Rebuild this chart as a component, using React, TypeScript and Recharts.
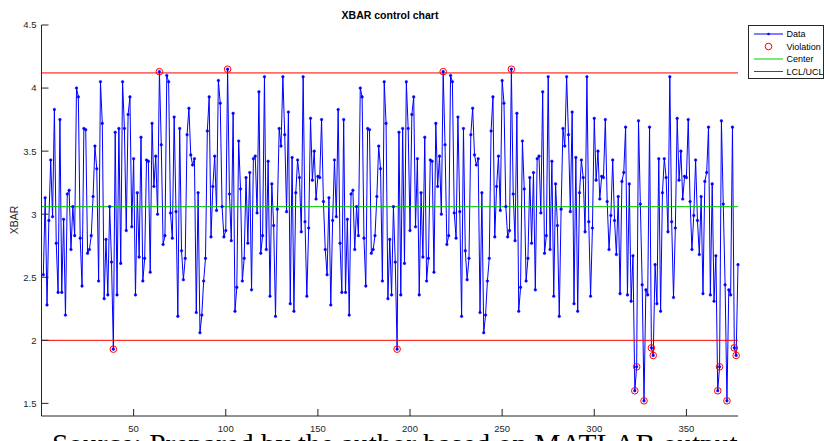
import React from "react";
import {
  ComposedChart,
  Line,
  XAxis,
  YAxis,
  ReferenceLine,
  Legend,
} from "recharts";

// subgroup means, samples 1-154
const xbarRun1 = [
  2.52, 3.13, 2.28, 2.95, 3.43, 2.98, 3.83, 2.77, 2.38, 3.75,
  2.38, 2.96, 2.2, 3.16, 3.19, 2.72, 3.06, 2.83, 4.0, 3.93,
  2.81, 2.43, 3.68, 3.67, 2.69, 2.72, 2.83, 3.14, 3.54, 3.36,
  2.47, 4.05, 3.72, 2.33, 2.8, 2.36, 3.06, 2.62, 1.93, 3.65,
  2.36, 3.68, 2.61, 4.05, 3.68, 2.87, 3.79, 3.93, 2.9, 3.44,
  2.36, 3.17, 2.66, 3.61, 2.47, 2.65, 3.43, 3.42, 2.54, 3.72,
  3.22, 3.46, 3.0, 4.13, 3.55, 2.76, 2.83, 4.1, 4.05, 3.01,
  2.81, 3.77, 3.02, 2.19, 3.68, 2.71, 2.48, 2.65, 3.63, 3.84,
  3.47, 3.39, 3.44, 2.22, 3.17, 2.06, 2.2, 2.47, 2.65, 3.66,
  3.93, 2.82, 3.22, 3.46, 3.03, 4.06, 3.88, 3.06, 2.82, 2.87,
  4.15, 3.16, 2.79, 3.8, 2.23, 2.42, 3.58, 3.2, 2.47, 2.65,
  3.29, 2.77, 3.33, 2.4, 3.44, 3.46, 3.01, 3.97, 2.69, 2.83,
  4.09, 2.72, 3.42, 2.35, 3.24, 2.91, 2.19, 3.04, 3.68, 3.54,
  4.09, 3.63, 3.02, 3.81, 2.29, 3.45, 2.23, 3.17, 3.43, 3.29,
  2.86, 4.09, 2.94, 2.35, 2.89, 3.76, 3.27, 3.5, 3.12, 3.3,
  3.29, 3.75, 3.1, 2.72,
];

// samples 155-308 (the picture repeats the first run)
const xbarRun2 = [
  2.52, 3.13, 2.28, 2.95, 3.43, 2.98, 3.83, 2.77, 2.38, 3.75,
  2.38, 2.96, 2.2, 3.16, 3.19, 2.72, 3.06, 2.83, 4.0, 3.93,
  2.81, 2.43, 3.68, 3.67, 2.69, 2.72, 2.83, 3.14, 3.54, 3.36,
  2.47, 4.05, 3.72, 2.33, 2.8, 2.36, 3.06, 2.62, 1.93, 3.65,
  2.36, 3.68, 2.61, 4.05, 3.68, 2.87, 3.79, 3.93, 2.9, 3.44,
  2.36, 3.17, 2.66, 3.61, 2.47, 2.65, 3.43, 3.42, 2.54, 3.72,
  3.22, 3.46, 3.0, 4.13, 3.55, 2.76, 2.83, 4.1, 4.05, 3.01,
  2.81, 3.77, 3.02, 2.19, 3.68, 2.71, 2.48, 2.65, 3.63, 3.84,
  3.47, 3.39, 3.44, 2.22, 3.17, 2.06, 2.2, 2.47, 2.65, 3.66,
  3.93, 2.82, 3.22, 3.46, 3.03, 4.06, 3.88, 3.06, 2.82, 2.87,
  4.15, 3.16, 2.79, 3.8, 2.23, 2.42, 3.58, 3.2, 2.47, 2.65,
  3.29, 2.77, 3.33, 2.4, 3.44, 3.46, 3.01, 3.97, 2.69, 2.83,
  4.09, 2.72, 3.42, 2.35, 3.24, 2.91, 2.19, 3.04, 3.68, 3.54,
  4.09, 3.63, 3.02, 3.81, 2.29, 3.45, 2.23, 3.17, 3.43, 3.29,
  2.86, 4.09, 2.94, 2.35, 2.89, 3.76, 3.27, 3.5, 3.12, 3.3,
  3.29, 3.75, 3.1, 2.72,
];

// samples 309-378
const xbarRun3 = [
  2.99, 3.43, 2.95, 2.68, 3.14, 2.37, 3.26, 3.33, 3.69, 2.36,
  3.24, 2.31, 2.67, 1.6, 1.79, 3.74, 3.08, 2.44, 1.52, 2.4,
  2.36, 3.69, 1.94, 1.88, 2.6, 2.29, 3.44, 2.23, 3.17, 3.44,
  3.29, 2.86, 4.09, 2.94, 2.34, 2.89, 3.76, 3.27, 3.5, 3.12,
  3.3, 3.29, 3.75, 3.1, 2.72, 2.99, 3.43, 2.95, 2.68, 3.14,
  2.37, 3.26, 3.33, 3.69, 2.36, 3.24, 2.31, 2.67, 1.6, 1.79,
  3.74, 3.08, 2.44, 1.52, 2.4, 2.36, 3.69, 1.94, 1.88, 2.6,
];

const centerLine = 3.06;
const lcl = 2.0;
const ucl = 4.12;

const xTicks = [50, 100, 150, 200, 250, 300, 350];
const yTicks = [1.5, 2, 2.5, 3, 3.5, 4, 4.5];
const legendLabels = ["Data", "Violation", "Center", "LCL/UCL"];

const xbar = [...xbarRun1, ...xbarRun2, ...xbarRun3];
const rows = xbar.map((v, i) => ({
  sample: i + 1,
  xbar: v,
  violation: v > ucl || v < lcl ? v : null,
}));

const AXIS = "#262626";
const FONT = "'Liberation Sans', Arial, Helvetica, sans-serif";
const TICK_LEN = 7;

function BottomTick(props: any) {
  const { x, y, payload } = props;
  const axisY = y - 8;
  return (
    <g>
      <line x1={x} x2={x} y1={axisY} y2={axisY - TICK_LEN} stroke={AXIS} />
      <text x={x} y={y + 8} textAnchor="middle" fontSize={9.5} fill={AXIS} fontFamily={FONT}>
        {payload.value}
      </text>
    </g>
  );
}

function TopTick(props: any) {
  const { x, y } = props;
  return <line x1={x} x2={x} y1={y} y2={y + TICK_LEN} stroke={AXIS} />;
}

function LeftTick(props: any) {
  const { x, y, payload } = props;
  const axisX = x + 5;
  return (
    <g>
      <line x1={axisX} x2={axisX + TICK_LEN} y1={y} y2={y} stroke={AXIS} />
      <text x={x} y={y + 3.4} textAnchor="end" fontSize={9.5} fill={AXIS} fontFamily={FONT}>
        {payload.value}
      </text>
    </g>
  );
}

function RightTick(props: any) {
  const { x, y } = props;
  return <line x1={x} x2={x - TICK_LEN} y1={y} y2={y} stroke={AXIS} />;
}

function ViolationDot(props: any) {
  const { cx, cy, value, index } = props;
  if (value == null || typeof cy !== "number") return <g key={`v-${index}`} />;
  return (
    <circle key={`v-${index}`} cx={cx} cy={cy} r={3.3} fill="none" stroke="#ff0000" strokeWidth={1} />
  );
}

function LegendBox() {
  const rowsY = [9, 21.5, 34, 46.5];
  return (
    <svg width={76} height={54} style={{ display: "block" }}>
      <rect x={0.5} y={0.5} width={75} height={53} fill="#fff" stroke={AXIS} />
      <line x1={6} x2={35} y1={rowsY[0]} y2={rowsY[0]} stroke="#0000ff" />
      <circle cx={20.5} cy={rowsY[0]} r={1.3} fill="#0000ff" />
      <circle cx={20.5} cy={rowsY[1]} r={3.3} fill="none" stroke="#ff0000" />
      <line x1={6} x2={35} y1={rowsY[2]} y2={rowsY[2]} stroke="#00cc00" />
      <line x1={6} x2={35} y1={rowsY[3]} y2={rowsY[3]} stroke="#ff0000" />
      {legendLabels.map((label, i) => (
        <text key={label} x={38.5} y={rowsY[i] + 3.2} fontSize={9} fill="#000" fontFamily={FONT}>
          {label}
        </text>
      ))}
    </svg>
  );
}

export default function App() {
  return (
    <div style={{ position: "absolute", left: 0, top: 0, width: 824, height: 441, background: "#fff", overflow: "hidden" }}>
      <ComposedChart width={824} height={441} data={rows} margin={{ top: 25, right: 86, bottom: 0, left: 0 }}>
        <XAxis
          dataKey="sample"
          type="number"
          domain={[0, 378]}
          ticks={xTicks}
          interval={0}
          height={25}
          tickSize={0}
          tickMargin={8}
          tickLine={false}
          axisLine={{ stroke: AXIS }}
          tick={<BottomTick />}
        />
        <XAxis
          xAxisId="top"
          orientation="top"
          dataKey="sample"
          type="number"
          domain={[0, 378]}
          ticks={xTicks}
          interval={0}
          height={0}
          tickSize={0}
          tickMargin={0}
          tickLine={false}
          axisLine={{ stroke: "#9a9a9a" }}
          tick={<TopTick />}
        />
        <YAxis
          type="number"
          domain={[1.4, 4.5]}
          ticks={yTicks}
          interval={0}
          width={41.5}
          tickSize={0}
          tickMargin={5}
          tickLine={false}
          axisLine={{ stroke: AXIS }}
          tick={<LeftTick />}
        />
        <YAxis
          yAxisId="right"
          orientation="right"
          type="number"
          domain={[1.4, 4.5]}
          ticks={yTicks}
          interval={0}
          width={0}
          tickSize={0}
          tickMargin={0}
          tickLine={false}
          axisLine={{ stroke: AXIS }}
          tick={<RightTick />}
        />
        <Line
          dataKey="xbar"
          stroke="#0000ff"
          strokeWidth={1}
          dot={{ r: 1.3, fill: "#0000ff", stroke: "#0000ff", strokeWidth: 0.5 }}
          activeDot={false}
          isAnimationActive={false}
        />
        <Line
          dataKey="violation"
          stroke="none"
          dot={ViolationDot}
          activeDot={false}
          isAnimationActive={false}
        />
        <ReferenceLine y={centerLine} stroke="#00cc00" strokeWidth={1} />
        <ReferenceLine y={ucl} stroke="#ff0000" strokeWidth={1} />
        <ReferenceLine y={lcl} stroke="#ff0000" strokeWidth={1} />
        <Legend
          layout="horizontal"
          verticalAlign="middle"
          align="center"
          content={() => <LegendBox />}
          wrapperStyle={{ left: 748, top: 25, width: 76, height: 54 }}
        />
      </ComposedChart>
      <svg width={824} height={441} style={{ position: "absolute", left: 0, top: 0, pointerEvents: "none" }}>
        <text x={390} y={19} textAnchor="middle" fontSize={10.5} fontWeight="bold" fill="#000" fontFamily={FONT}>
          XBAR control chart
        </text>
        <text x={18} y={220} textAnchor="middle" fontSize={10.5} fill={AXIS} fontFamily={FONT} transform="rotate(-90 18 220)">
          XBAR
        </text>
        <text x={52} y={454} fontSize={29.4} fill="#000" fontFamily="'Liberation Serif', 'Times New Roman', serif">
          Source: Prepared by the author based on MATLAB output
        </text>
      </svg>
    </div>
  );
}
